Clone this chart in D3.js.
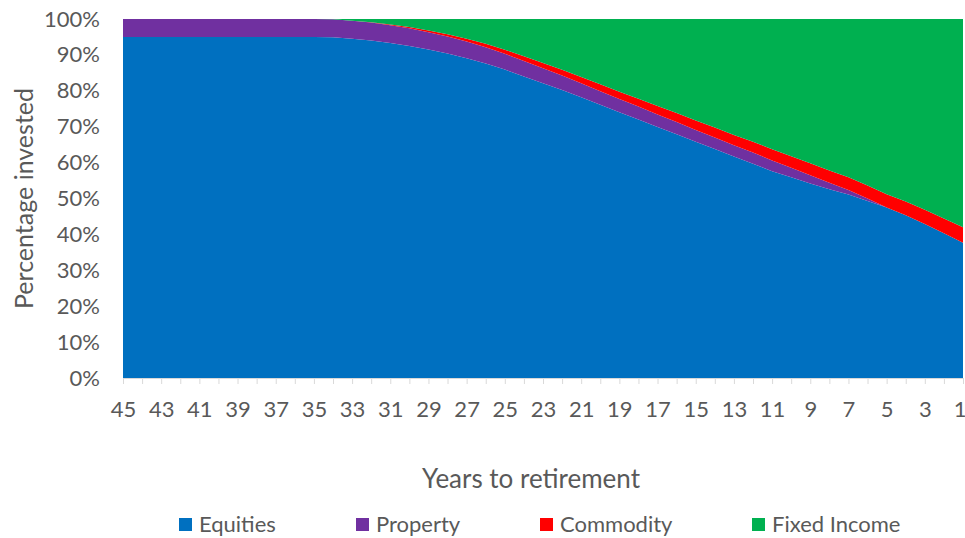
<!DOCTYPE html>
<html>
<head>
<meta charset="utf-8">
<script src="https://cdn.jsdelivr.net/npm/d3@7"></script>
<style>
  body { margin: 0; background: #fff; }
  svg text { font-family: Lato, "Open Sans", sans-serif; fill: #595959; }
</style>
</head>
<body>
<div id="chart"></div>
<script>
var years = d3.range(45, 0, -1);

var equities = [95, 95, 95, 95, 95, 95, 95, 95, 95, 95, 95,
  94.9, 94.5, 94.0, 93.3, 92.5, 91.5, 90.4, 89.1, 87.6, 85.9,
  84.0, 82.1, 80.2, 78.2, 76.1, 74.0, 72.0, 69.9, 67.9, 65.8,
  63.8, 61.7, 59.7, 57.6, 55.9, 54.2, 52.6, 51.1, 49.3, 47.5,
  45.3, 42.9, 40.3, 37.7];

var property = [5, 5, 5, 5, 5, 5, 5, 5, 5, 5, 5, 5,
  5, 5, 4.95, 4.9, 4.8, 4.7, 4.6, 4.5, 4.4, 4.3, 4.2, 4.05, 3.9,
  3.8, 3.7, 3.6, 3.5, 3.4, 3.3, 3.2, 3.15, 3.1, 3.0, 2.7, 2.3,
  1.8, 1.3, 0.7, 0, 0, 0, 0, 0];

var commodity = [0, 0, 0, 0, 0, 0, 0, 0, 0, 0, 0, 0,
  0, 0.1, 0.2, 0.35, 0.5, 0.65, 0.8, 1.0, 1.15, 1.3, 1.45, 1.6, 1.75,
  1.9, 2.05, 2.2, 2.35, 2.5, 2.6, 2.75, 2.85, 3.0, 3.1, 3.2, 3.3,
  3.4, 3.5, 3.6, 3.7, 3.85, 4.0, 4.15, 4.3];

var fixedIncome = [0, 0, 0, 0, 0, 0, 0, 0, 0, 0, 0,
  0.1, 0.5, 0.9, 1.55, 2.25, 3.2, 4.25, 5.5, 6.9, 8.55,
  10.4, 12.25, 14.15, 16.15, 18.2, 20.25, 22.2, 24.25, 26.2, 28.3,
  30.25, 32.3, 34.2, 36.3, 38.2, 40.2, 42.2, 44.1, 46.4, 48.8,
  50.85, 53.1, 55.55, 58.0];

var seriesNames = ['Equities', 'Property', 'Commodity', 'Fixed Income'];
var seriesColors = ['#0070c0', '#7030a0', '#ff0000', '#00b050'];
var yTicks = [0, 10, 20, 30, 40, 50, 60, 70, 80, 90, 100];

var width = 965, height = 538;
var margin = {left: 123, right: 2, top: 19, bottom: 160};

var svg = d3.select('#chart').append('svg')
  .attr('width', width)
  .attr('height', height);

var rows = years.map(function(y, i) {
  return {year: y, 'Equities': equities[i], 'Property': property[i],
    'Commodity': commodity[i], 'Fixed Income': fixedIncome[i]};
});

var x = d3.scalePoint()
  .domain(years)
  .range([margin.left, width - margin.right]);

var y = d3.scaleLinear()
  .domain([0, 100])
  .range([height - margin.bottom, margin.top]);

var stack = d3.stack().keys(seriesNames);
var layers = stack(rows);

var area = d3.area()
  .x(function(d) { return x(d.data.year); })
  .y0(function(d) { return y(d[0]); })
  .y1(function(d) { return y(Math.min(d[1], 100)); });

svg.append('g').selectAll('path')
  .data(layers)
  .enter()
  .append('path')
    .attr('d', area)
    .style('fill', function(d, i) { return seriesColors[i]; });

// y axis labels
var yAxis = d3.axisLeft(y)
  .tickValues(yTicks)
  .tickSize(0)
  .tickPadding(23)
  .tickFormat(function(d) { return d + '%'; });

var yg = svg.append('g')
  .attr('transform', 'translate(' + margin.left + ',0)')
  .call(yAxis);
yg.select('.domain').remove();
yg.selectAll('text').style('font-size', '22px');

// x axis
var xAxis = d3.axisBottom(x)
  .tickSize(6)
  .tickPadding(17)
  .tickFormat(function(d, i) { return i % 2 == 0 ? d : ''; });

var xg = svg.append('g')
  .attr('transform', 'translate(0,' + (height - margin.bottom) + ')')
  .call(xAxis);
xg.select('.domain').attr('stroke', '#d9d9d9').attr('d', 'M' + margin.left + ',0.5H' + (width - margin.right));
xg.selectAll('line').attr('stroke', '#d9d9d9');
xg.selectAll('text').style('font-size', '22px');
// keep the last label inside the picture
xg.selectAll('text').filter(function(d) { return d == 1; })
  .attr('text-anchor', 'end')
  .attr('x', 3);

// axis titles
svg.append('text')
  .attr('x', 531)
  .attr('y', 488)
  .attr('text-anchor', 'middle')
  .style('font-size', '26px')
  .text('Years to retirement');

svg.append('text')
  .attr('transform', 'translate(33,' + ((margin.top + height - margin.bottom) / 2) + ') rotate(-90)')
  .attr('text-anchor', 'middle')
  .style('font-size', '25px')
  .text('Percentage invested');

// legend
var legendX = [179, 356, 540, 752];
var legend = svg.append('g').selectAll('g')
  .data(seriesNames)
  .enter()
  .append('g')
    .attr('transform', function(d, i) { return 'translate(' + legendX[i] + ',518)'; });

legend.append('rect')
  .attr('width', 13)
  .attr('height', 13)
  .style('fill', function(d, i) { return seriesColors[i]; });

legend.append('text')
  .attr('x', 20)
  .attr('y', 13.5)
  .style('font-size', '22px')
  .text(function(d) { return d; });
</script>
</body>
</html>
